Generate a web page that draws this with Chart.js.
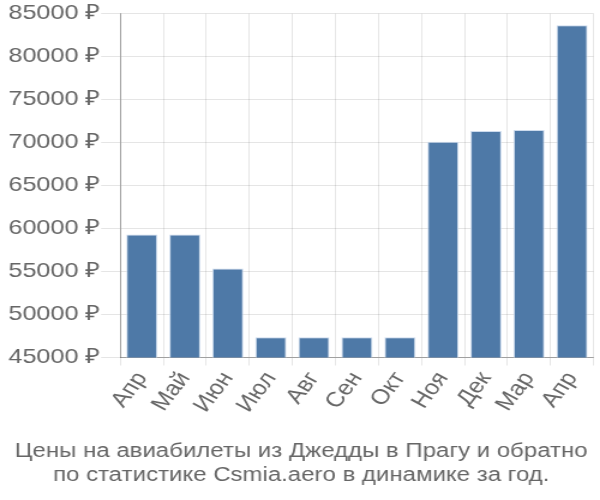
<!DOCTYPE html>
<html><head><meta charset="utf-8">
<script src="https://cdn.jsdelivr.net/npm/chart.js@4/dist/chart.umd.min.js"></script>
<style>html,body{margin:0;padding:0;background:#fff;width:600px;height:500px;overflow:hidden}#wrap{width:500px;height:500px;transform:scaleX(1.2);transform-origin:0 0}</style>
</head><body><div id="wrap"><canvas id="c"></canvas></div>
<script>
const categories = ["Апр","Май","Июн","Июл","Авг","Сен","Окт","Ноя","Дек","Мар","Апр"];
const prices = [59300, 59300, 55350, 47350, 47350, 47350, 47350, 70100, 71350, 71450, 83650];
const titleLines = ["Цены на авиабилеты из Джедды в Прагу и обратно","по статистике Csmia.aero в динамике за год."];
const yMin = 45000, yMax = 85000, yStep = 5000;

new Chart(document.getElementById('c'), {
  type: 'bar',
  data: { labels: categories, datasets: [{ data: prices, backgroundColor: '#4e79a7', borderColor: 'rgba(200,215,235,0.9)', borderWidth: 1 }] },
  options: {
    responsive: true, maintainAspectRatio: false, animation: false,
    layout: { padding: { left: 6, right: 4, top: 4, bottom: 0 } },
    plugins: {
      legend: { display: false }, tooltip: { enabled: false },
      title: { display: true, position: 'bottom', text: titleLines, color: '#666', font: { family: 'Liberation Sans', size: 20, weight: 'normal' }, padding: { top: 20, bottom: 13 }, lineHeight: 1.35 }
    },
    scales: {
      x: { grid: { color: 'rgba(0,0,0,0.1)', tickLength: 8 }, border: { color: 'rgba(0,0,0,0.3)' },
           ticks: { color: '#666', font: { family: 'Liberation Sans', size: 21 }, autoSkip: false, maxRotation: 57, minRotation: 57, padding: 2 } },
      y: { min: yMin, max: yMax, grid: { color: 'rgba(0,0,0,0.1)', tickLength: 16 }, border: { color: 'rgba(0,0,0,0.3)' },
           ticks: { stepSize: yStep, color: '#666', font: { family: 'Liberation Sans', size: 21 }, padding: 1, callback: v => v + ' ₽' } }
    }
  }
});
</script></body></html>
